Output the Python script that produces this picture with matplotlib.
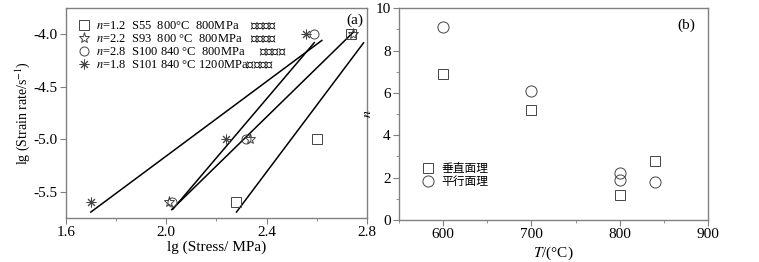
import numpy as np
import matplotlib
matplotlib.use('Agg')
import matplotlib.pyplot as plt

plt.rcParams['font.family'] = ['Liberation Serif', 'Noto Sans CJK SC', 'DejaVu Sans']
plt.rcParams['mathtext.fontset'] = 'stix'

# (a) 应力-应变速率
y_rate = [-5.6, -5.0, -4.0]
x_s55 = [2.28, 2.60, 2.735]
x_s93 = [2.012, 2.334, 2.746]
x_s100 = [2.025, 2.317, 2.588]
x_s101 = [1.70, 2.237, 2.556]

# fitted lines: slope, intercept, x start, x end
fit_slope = [1.78, 2.82, 2.34, 3.19]
fit_icpt = [-8.722, -11.383, -10.404, -12.969]
fit_x0 = [1.70, 2.026, 2.022, 2.28]
fit_x1 = [2.62, 2.59, 2.746, 2.786]

labels_a = ['$n$=1.2  S55  800°C  800MPa    垂直面理',
            '$n$=2.2  S93  800 °C  800MPa   平行面理',
            '$n$=2.8  S100 840 °C  800MPa     垂直面理',
            '$n$=1.8  S101 840 °C 1200MPa平行面理']

# (b) n - T
T_perp = [600, 700, 800, 840]
n_perp = [6.9, 5.2, 1.2, 2.8]
T_para = [600, 700, 800, 800, 840]
n_para = [9.1, 6.1, 2.2, 1.9, 1.8]

spine_c = '#808080'
mk = dict(linestyle='none', markerfacecolor='none', markeredgecolor='#444444', markeredgewidth=0.7)

fig = plt.figure(figsize=(7.59, 2.62), dpi=100)
ax1 = fig.add_axes([0.0866, 0.169, 0.397, 0.800])
ax2 = fig.add_axes([0.5257, 0.160, 0.407, 0.809])

for a in (ax1, ax2):
    for s in a.spines.values():
        s.set_color(spine_c)
        s.set_linewidth(1.0)
    a.tick_params(which='both', direction='out', color=spine_c, labelsize=11,
                  top=False, right=False, pad=2)
    a.tick_params(which='major', length=4)
    a.tick_params(which='minor', length=2.5)

# panel a
for k, b, x0, x1 in zip(fit_slope, fit_icpt, fit_x0, fit_x1):
    xs = np.array([x0, x1])
    ax1.plot(xs, k * xs + b, color='black', lw=1.1)

h1, = ax1.plot(x_s55, y_rate, marker='s', ms=7, **mk)
h2, = ax1.plot(x_s93, y_rate, marker='*', ms=8, **mk)
h3, = ax1.plot(x_s100, y_rate, marker='o', ms=6.5, **mk)
h4, = ax1.plot(x_s101, y_rate, marker=(8, 2, 0), ms=7, **mk)

ax1.set_xlim(1.6, 2.8)
ax1.set_ylim(-5.75, -3.75)
ax1.set_xticks([1.6, 2.0, 2.4, 2.8])
ax1.set_xticks([1.8, 2.2, 2.6], minor=True)
ax1.set_yticks([-4.0, -4.5, -5.0, -5.5])
ax1.set_yticklabels(['-4.0', '-4.5', '-5.0', '-5.5'])
ax1.set_xlabel('lg (Stress/ MPa)', fontsize=11, labelpad=1)
ax1.set_ylabel('lg (Strain rate/s$^{-1}$)', fontsize=10, labelpad=1)
ax1.text(0.96, 0.94, '(a)', transform=ax1.transAxes, ha='center', va='center', fontsize=11)
ax1.legend([h1, h2, h3, h4], labels_a, loc='upper left', bbox_to_anchor=(0.01, 0.985),
           frameon=False, fontsize=9, handlelength=1.0, handletextpad=0.5,
           labelspacing=0.05, borderaxespad=0.3)

# panel b
g1, = ax2.plot(T_perp, n_perp, marker='s', ms=7, **mk)
g2, = ax2.plot(T_para, n_para, marker='o', ms=8, **mk)
ax2.set_xlim(550, 900)
ax2.set_ylim(0, 10)
ax2.set_xticks([600, 700, 800, 900])
ax2.set_xticks([550, 650, 750, 850], minor=True)
ax2.set_yticks([0, 2, 4, 6, 8, 10])
ax2.set_yticks([1, 3, 5, 7, 9], minor=True)
ax2.set_xlabel('$T$/(°C)', fontsize=11, labelpad=2)
ax2.set_ylabel('$n$', fontsize=10, labelpad=1)
ax2.text(0.93, 0.92, '(b)', transform=ax2.transAxes, ha='center', va='center', fontsize=11)
ax2.legend([g1, g2], ['垂直面理', '平行面理'], loc='lower left', bbox_to_anchor=(0.06, 0.13),
           frameon=False, fontsize=8.5, handlelength=1.0, handletextpad=0.6,
           labelspacing=0.05, borderaxespad=0)

fig.savefig('out.png', dpi=100)
